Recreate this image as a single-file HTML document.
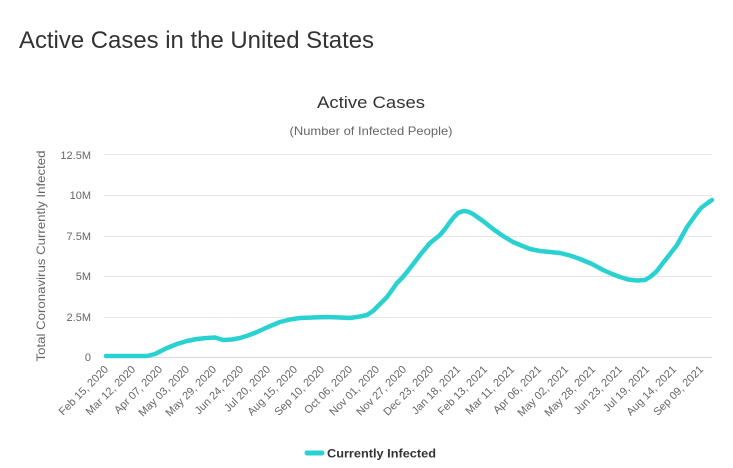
<!DOCTYPE html>
<html><head><meta charset="utf-8"><style>
html,body{margin:0;padding:0;background:#fff;}
svg{display:block;}
</style></head><body>
<svg width="733" height="468" viewBox="0 0 733 468" xmlns="http://www.w3.org/2000/svg" font-family="Liberation Sans, Arial, sans-serif">
<rect width="733" height="468" fill="#fff"/>
<text x="19" y="48" font-size="24" fill="#333" textLength="355" lengthAdjust="spacingAndGlyphs">Active Cases in the United States</text>
<text x="371" y="108" font-size="17" fill="#333" text-anchor="middle" textLength="108" lengthAdjust="spacingAndGlyphs">Active Cases</text>
<text x="371" y="135" font-size="12" fill="#666" text-anchor="middle" textLength="163" lengthAdjust="spacingAndGlyphs">(Number of Infected People)</text>
<g stroke="#e6e6e6" stroke-width="1">
<line x1="104" y1="154.5" x2="712" y2="154.5"/>
<line x1="104" y1="195.5" x2="712" y2="195.5"/>
<line x1="104" y1="236.5" x2="712" y2="236.5"/>
<line x1="104" y1="276.5" x2="712" y2="276.5"/>
<line x1="104" y1="317.5" x2="712" y2="317.5"/>
</g>
<line x1="104" y1="357.5" x2="712" y2="357.5" stroke="#d8d8d8" stroke-width="1"/>
<g font-size="11" fill="#666" text-anchor="end">
<text x="91" y="159">12.5M</text>
<text x="91" y="199">10M</text>
<text x="91" y="240">7.5M</text>
<text x="91" y="280">5M</text>
<text x="91" y="321">2.5M</text>
<text x="91" y="361">0</text>
</g>
<text transform="translate(45,256) rotate(-90)" font-size="12" fill="#666" text-anchor="middle" textLength="211" lengthAdjust="spacingAndGlyphs">Total Coronavirus Currently Infected</text>
<g font-size="11" fill="#666" text-anchor="end">
<text transform="translate(109,370) rotate(-45)">Feb 15, 2020</text>
<text transform="translate(136,370) rotate(-45)">Mar 12, 2020</text>
<text transform="translate(163,370) rotate(-45)">Apr 07, 2020</text>
<text transform="translate(190,370) rotate(-45)">May 03, 2020</text>
<text transform="translate(217,370) rotate(-45)">May 29, 2020</text>
<text transform="translate(244,370) rotate(-45)">Jun 24, 2020</text>
<text transform="translate(271,370) rotate(-45)">Jul 20, 2020</text>
<text transform="translate(298,370) rotate(-45)">Aug 15, 2020</text>
<text transform="translate(325,370) rotate(-45)">Sep 10, 2020</text>
<text transform="translate(353,370) rotate(-45)">Oct 06, 2020</text>
<text transform="translate(380,370) rotate(-45)">Nov 01, 2020</text>
<text transform="translate(407,370) rotate(-45)">Nov 27, 2020</text>
<text transform="translate(434,370) rotate(-45)">Dec 23, 2020</text>
<text transform="translate(461,370) rotate(-45)">Jan 18, 2021</text>
<text transform="translate(488,370) rotate(-45)">Feb 13, 2021</text>
<text transform="translate(515,370) rotate(-45)">Mar 11, 2021</text>
<text transform="translate(542,370) rotate(-45)">Apr 06, 2021</text>
<text transform="translate(569,370) rotate(-45)">May 02, 2021</text>
<text transform="translate(596,370) rotate(-45)">May 28, 2021</text>
<text transform="translate(623,370) rotate(-45)">Jun 23, 2021</text>
<text transform="translate(650,370) rotate(-45)">Jul 19, 2021</text>
<text transform="translate(677,370) rotate(-45)">Aug 14, 2021</text>
<text transform="translate(704,370) rotate(-45)">Sep 09, 2021</text>
</g>
<polyline fill="none" stroke="#29d1d1" stroke-width="4.5" stroke-linejoin="round" stroke-linecap="round"
points="106,356 147,356 155,354 167,348 177,344 187,341 197,339 207,338 215,337.5 223,340 232,339.5 240,338 248,335.5 257,332 268,327 280,322 290,319.5 300,318 313,317.5 327,317 340,317.5 350,318 360,316.5 367,315 373,311 380,304 387,297 392,290 397,283 402,278 407,272 414,263 420,255 425,249 430,243 435,239 440,235 445,229 450,222 454,217 458,213 462,211.5 465,211 469,212 473,214 483,221 493,229 503,236 513,242 520,245 530,249 540,251 550,252 560,253 570,255.5 580,259 592,264 603,270 612,274 620,277 628,279.5 637,280.5 645,280 650,277 656,272 663,263 670,254 677,245 682,236 687,227 692,220 697,213 701,208 705,205 709,202 712,200"/>
<line x1="307" y1="453" x2="322" y2="453" stroke="#29d1d1" stroke-width="5" stroke-linecap="round"/>
<text x="327" y="457.5" font-size="12" font-weight="bold" fill="#333" textLength="109" lengthAdjust="spacingAndGlyphs">Currently Infected</text>
</svg>
</body></html>
